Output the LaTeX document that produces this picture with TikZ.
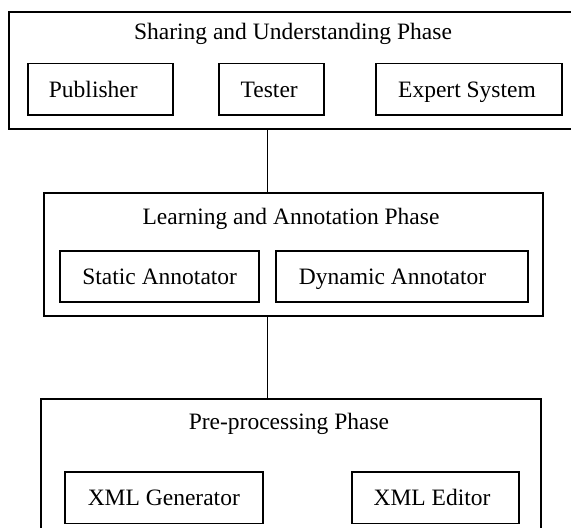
\documentclass[tikz,border=0pt]{standalone}
\usepackage{fontspec}
\setmainfont{Liberation Serif}
\begin{document}
\begin{tikzpicture}[x=1pt,y=-1pt,
  every node/.style={font=\fontsize{23.5}{28}\selectfont},
  phase/.style={draw, line width=1.8pt, inner sep=0pt},
  part/.style={draw, line width=1.8pt, inner sep=0pt, minimum height=51.5pt,
               text height=16.5pt, text depth=0pt},
  title/.style={anchor=base, inner sep=0pt},
  link/.style={line width=1.8pt}]
\useasboundingbox (0,0) rectangle (571,528);
\clip (0,0) rectangle (571,528);

% phase frames
\node[phase, minimum width=567pt, minimum height=117pt] (share) at (292.5,70.2) {};
\node[phase, minimum width=498.7pt, minimum height=122.7pt] (learn) at (293.3,254.7) {};
\node[phase, minimum width=500pt, minimum height=146pt] (prep) at (291,472.3) {};

% phase titles
\node[title] (shareT) at (293,39) {Sharing and Understanding Phase};
\node[title] (learnT) at (291,224.7) {Learning and Annotation Phase};
\node[title] (prepT) at (289,429.3) {Pre-processing Phase};

% components (trailing space pads the label a little to the left)
\node[part, minimum width=144.7pt] (pub) at (100.3,89.2) {Publisher\hspace*{14pt}};
\node[part, minimum width=104.7pt] (test) at (271.7,89.2) {Tester\hspace*{5pt}};
\node[part, minimum width=185.4pt] (expert) at (469,89.2) {Expert System\hspace*{4pt}};
\node[part, minimum width=199.3pt] (static) at (159.7,276.5) {Static Annotator};
\node[part, minimum width=252.6pt] (dyn) at (402,276.5) {Dynamic Annotator\hspace*{19pt}};
\node[part, minimum width=198.3pt] (gen) at (163.8,497.7) {XML Generator};
\node[part, minimum width=167pt] (edit) at (435.5,497.7) {XML Editor\hspace*{7pt}};

% links between phases
\coordinate (spine) at (267.5,0);
\draw[link] (share.south -| spine) -- (learn.north -| spine);
\draw[link] (learn.south -| spine) -- (prep.north -| spine);
\end{tikzpicture}
\end{document}
